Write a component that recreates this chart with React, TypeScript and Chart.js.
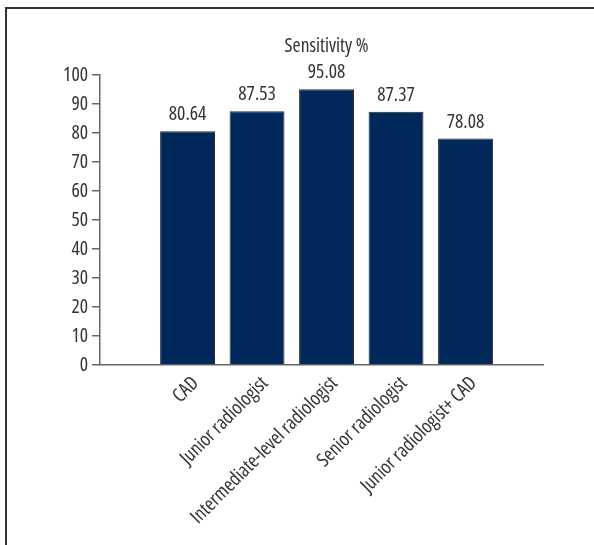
import React, { useEffect, useRef } from "react";
import { Chart, registerables } from "chart.js";

Chart.register(...registerables);

const categories = [
  "CAD",
  "Junior radiologist",
  "Intermediate-level radiologist",
  "Senior radiologist",
  "Junior radiologist+ CAD",
];
const sensitivity = [80.64, 87.53, 95.08, 87.37, 78.08];
const valueLabels = ["80.64", "87.53", "95.08", "87.37", "78.08"];
const yMin = 0;
const yMax = 100;
const yStep = 10;
const chartTitle = "Sensitivity %";

const FAMILY = "'Open Sans', 'Roboto Condensed', sans-serif";
const STRETCH = "condensed";
const FSIZE = 19.5;
const TEXT = "#333333";
const AXIS = "#666666";
const BAR = "#00285a";

const tickFont = { family: FAMILY, size: FSIZE, weight: STRETCH as any };

const labelPlugin = {
  id: "valueLabels",
  afterDatasetsDraw(chart: any) {
    const { ctx, chartArea } = chart;
    const meta = chart.getDatasetMeta(0);
    ctx.save();
    ctx.font = `${STRETCH} ${FSIZE}px ${FAMILY}`;
    ctx.fillStyle = TEXT;
    ctx.textAlign = "center";
    ctx.textBaseline = "alphabetic";
    meta.data.forEach((bar: any, i: number) => {
      ctx.fillText(valueLabels[i], bar.x, bar.y - 11);
    });
    const xs = chart.scales.x;
    const cx = (xs.getPixelForValue(0) + xs.getPixelForValue(categories.length - 1)) / 2;
    ctx.fillText(chartTitle, cx, chartArea.top - 23.5);
    ctx.restore();
  },
};

export default function App() {
  const ref = useRef<HTMLCanvasElement>(null);

  useEffect(() => {
    if (!ref.current) return;
    const chart = new Chart(ref.current, {
      type: "bar",
      data: {
        datasets: [
          {
            label: chartTitle,
            data: sensitivity.map((v, i) => ({ x: i, y: v })),
            backgroundColor: BAR,
            borderColor: "#2a2a2a",
            borderWidth: 1,
            barPercentage: 0.79,
            categoryPercentage: 1,
          },
        ],
      },
      options: {
        animation: false,
        responsive: false,
        maintainAspectRatio: false,
        layout: { padding: { left: 60, right: 51, top: 75, bottom: 10 } },
        plugins: {
          legend: { display: false },
          title: { display: false },
          tooltip: { enabled: false },
        },
        scales: {
          x: {
            type: "linear",
            offset: false,
            min: -1.26,
            max: 5.115,
            afterBuildTicks: (s: any) => {
              s.ticks = categories.map((_, i) => ({ value: i }));
            },
            afterFit: (s: any) => {
              s.height = 170;
              s.paddingLeft = 0;
              s.paddingRight = 0;
            },
            grid: { display: false, offset: false },
            border: { display: true, color: AXIS, width: 1.5 },
            ticks: {
              autoSkip: false,
              minRotation: 45,
              maxRotation: 45,
              padding: -1,
              labelOffset: 8,
              color: TEXT,
              font: tickFont,
              callback: (v: any) => categories[v] ?? "",
            },
          },
          y: {
            min: yMin,
            max: yMax,
            afterFit: (s: any) => {
              s.width = 40;
            },
            grid: {
              drawOnChartArea: false,
              drawTicks: true,
              tickLength: 8,
              color: AXIS,
              lineWidth: 1.5,
            },
            border: { display: true, color: AXIS, width: 1.5 },
            ticks: {
              stepSize: yStep,
              padding: 4,
              color: TEXT,
              font: tickFont,
            },
          },
        },
      },
      plugins: [labelPlugin],
    } as any);
    return () => chart.destroy();
  }, []);

  return (
    <div
      style={{
        position: "absolute",
        left: 0,
        top: 0,
        width: 594,
        height: 545,
        overflow: "hidden",
        background: "#fff",
      }}
    >
      <div
        style={{
          position: "absolute",
          left: 5,
          top: 7,
          width: 700,
          height: 700,
          border: "2px solid #333",
          boxSizing: "border-box",
        }}
      />
      <canvas
        ref={ref}
        width={594}
        height={545}
        style={{ position: "absolute", left: 0, top: 0, width: 594, height: 545 }}
      />
    </div>
  );
}
